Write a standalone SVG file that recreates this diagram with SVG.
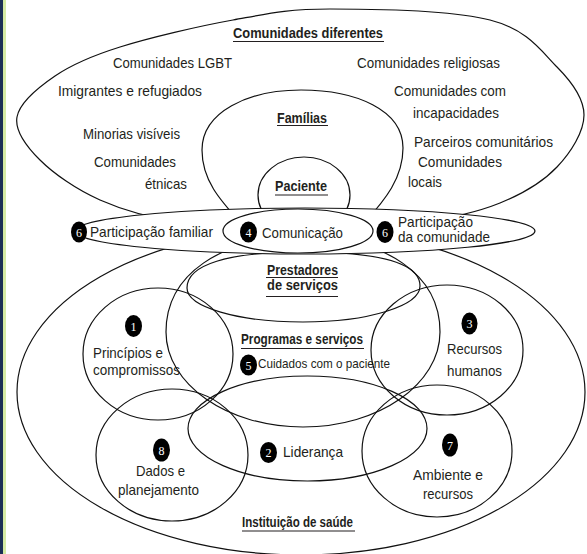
<svg xmlns="http://www.w3.org/2000/svg" width="587" height="554" viewBox="0 0 587 554">
<style>
.o{fill:none;stroke:#111;stroke-width:1.2}
.t{font-family:"Liberation Sans",Arial,sans-serif;font-size:14.5px;fill:#231f20}
.s{font-family:"Liberation Sans",Arial,sans-serif;font-size:13px;fill:#231f20}
.b{font-family:"Liberation Sans",Arial,sans-serif;font-size:14px;font-weight:bold;fill:#231f20}
.u{stroke:#231f20;stroke-width:1.1}
.k{fill:#000}
.n{font-family:"Liberation Serif","Times New Roman",serif;font-size:12px;fill:#fff;text-anchor:middle}
</style>
<rect x="0" y="0" width="587" height="554" fill="#fff"/>
<rect x="0" y="0" width="3" height="554" fill="#1b2e56"/>
<rect x="3" y="0" width="3" height="554" fill="#d5eaa4"/>

<g id="comunidades-diferentes">
<path class="o" d="M17,117 C19.5,103 37.8,87.7 55,76 C72.2,64.3 90.3,56.3 120,47 C149.7,37.7 198,26.3 233,20 C268,13.7 287.2,9 330,9 C372.8,9 452.2,10.3 490,20 C527.8,29.7 541.3,51.2 557,67 C572.7,82.8 584,98.3 584,115 C584,131.7 571,152.3 557,167 C543,181.7 522.8,193.8 500,203 C477.2,212.2 453.3,217.8 420,222 C386.7,226.2 340,228 300,228 C260,228 213.3,226.7 180,222 C146.7,217.3 123.3,210.3 100,200 C76.7,189.7 53.8,173.8 40,160 C26.2,146.2 14.5,131 17,117 Z"/>
<text class="b" x="233" y="38" textLength="150" lengthAdjust="spacingAndGlyphs">Comunidades diferentes</text>
<line class="u" x1="233" y1="41.5" x2="384" y2="41.5"/>
<text class="t" x="113" y="68" textLength="119" lengthAdjust="spacingAndGlyphs">Comunidades LGBT</text>
<text class="t" x="357" y="68" textLength="143" lengthAdjust="spacingAndGlyphs">Comunidades religiosas</text>
<text class="t" x="58" y="96" textLength="144" lengthAdjust="spacingAndGlyphs">Imigrantes e refugiados</text>
<text class="t" x="394" y="96" textLength="112" lengthAdjust="spacingAndGlyphs">Comunidades com</text>
<text class="t" x="413" y="118" textLength="86" lengthAdjust="spacingAndGlyphs">incapacidades</text>
<text class="t" x="83" y="139" textLength="97" lengthAdjust="spacingAndGlyphs">Minorias visíveis</text>
<text class="t" x="414" y="147" textLength="139" lengthAdjust="spacingAndGlyphs">Parceiros comunitários</text>
<text class="t" x="94" y="167" textLength="82" lengthAdjust="spacingAndGlyphs">Comunidades</text>
<text class="t" x="418" y="167" textLength="84" lengthAdjust="spacingAndGlyphs">Comunidades</text>
<text class="t" x="145" y="189" textLength="42" lengthAdjust="spacingAndGlyphs">étnicas</text>
<text class="t" x="408" y="187" textLength="34" lengthAdjust="spacingAndGlyphs">locais</text>
</g>

<g id="familias">
<path class="o" d="M202,150 C202,112 248,90 301,90 C356,90 403,110 403,148 C403,178 385,200 365,222 C345,235 255,235 240,222 C220,200 202,180 202,150 Z"/>
<text class="b" x="277" y="123" textLength="50" lengthAdjust="spacingAndGlyphs">Famílias</text>
<line class="u" x1="277" y1="125.5" x2="328" y2="125.5"/>
</g>

<g id="paciente">
<ellipse class="o" cx="304" cy="195" rx="46" ry="38"/>
<text class="b" x="275" y="191" textLength="52" lengthAdjust="spacingAndGlyphs">Paciente</text>
<line class="u" x1="275" y1="195" x2="328" y2="195"/>
</g>

<g id="instituicao-de-saude">
<ellipse class="o" cx="301" cy="392" rx="284" ry="163"/>
<text class="b" x="242" y="527" textLength="111" lengthAdjust="spacingAndGlyphs">Instituição de saúde</text>
<line class="u" x1="242" y1="531" x2="355" y2="531"/>
</g>

<g id="programas-e-servicos">
<path class="o" d="M166,332 C166,275 220,237 303,237 C386,237 440,275 440,332 C440,384 379,427 303,427 C227,427 166,384 166,332 Z"/>
<text class="b" x="241" y="344" textLength="122" lengthAdjust="spacingAndGlyphs">Programas e serviços</text>
<line class="u" x1="241" y1="348.5" x2="364" y2="348.5"/>
<ellipse class="k" cx="248.5" cy="365" rx="8.5" ry="10.5"/>
<text class="n" x="248.5" y="369.5">5</text>
<text class="s" x="258" y="368" textLength="132" lengthAdjust="spacingAndGlyphs">Cuidados com o paciente</text>
</g>

<g id="prestadores-de-servicos">
<path class="o" d="M187,288 C187,264.6 227.6,252 303,252 C378.4,252 420,263 420,286 C420,306 368,322 303,322 C238,322 187,307 187,288 Z"/>
<text class="b" x="267" y="275" textLength="71" lengthAdjust="spacingAndGlyphs">Prestadores</text>
<line class="u" x1="266" y1="277.5" x2="338" y2="277.5"/>
<text class="b" x="267" y="290" textLength="71" lengthAdjust="spacingAndGlyphs">de serviços</text>
<line class="u" x1="266" y1="296.5" x2="338" y2="296.5"/>
</g>

<g id="principios-e-compromissos">
<ellipse class="o" cx="158" cy="354" rx="75" ry="66"/>
<ellipse class="k" cx="133.5" cy="326" rx="8.5" ry="11"/>
<text class="n" x="133.5" y="330.5">1</text>
<text class="t" x="93" y="358" textLength="70" lengthAdjust="spacingAndGlyphs">Princípios e</text>
<text class="t" x="93" y="375" textLength="87" lengthAdjust="spacingAndGlyphs">compromissos</text>
</g>

<g id="recursos-humanos">
<ellipse class="o" cx="447" cy="350" rx="76" ry="65"/>
<ellipse class="k" cx="469.5" cy="323.5" rx="8" ry="11"/>
<text class="n" x="469.5" y="328">3</text>
<text class="t" x="447" y="354" textLength="55" lengthAdjust="spacingAndGlyphs">Recursos</text>
<text class="t" x="447" y="376" textLength="55" lengthAdjust="spacingAndGlyphs">humanos</text>
</g>

<g id="ambiente-e-recursos">
<ellipse class="o" cx="437" cy="451" rx="75" ry="66"/>
<ellipse class="k" cx="450" cy="445" rx="8" ry="11.5"/>
<text class="n" x="450" y="449.5">7</text>
<text class="t" x="413" y="480" textLength="70" lengthAdjust="spacingAndGlyphs">Ambiente e</text>
<text class="t" x="423" y="499" textLength="50" lengthAdjust="spacingAndGlyphs">recursos</text>
</g>

<g id="dados-e-planejamento">
<ellipse class="o" cx="172" cy="455" rx="76" ry="66"/>
<ellipse class="k" cx="161.5" cy="450" rx="8.5" ry="11.5"/>
<text class="n" x="161.5" y="454.5">8</text>
<text class="t" x="136" y="476" textLength="49" lengthAdjust="spacingAndGlyphs">Dados e</text>
<text class="t" x="118" y="495" textLength="81" lengthAdjust="spacingAndGlyphs">planejamento</text>
</g>

<g id="lideranca">
<ellipse class="o" cx="307.5" cy="428.5" rx="119.5" ry="52.5"/>
<ellipse class="k" cx="268.5" cy="452.5" rx="8.5" ry="10.5"/>
<text class="n" x="268.5" y="457">2</text>
<text class="t" x="283" y="457" textLength="60" lengthAdjust="spacingAndGlyphs">Liderança</text>
</g>

<g id="participacao">
<ellipse cx="305" cy="231" rx="230" ry="23" fill="#fff" stroke="#111" stroke-width="1.2"/>
<ellipse class="k" cx="79" cy="232" rx="8" ry="10.5"/>
<text class="n" x="79" y="236.5">6</text>
<text class="t" x="90" y="237" textLength="123" lengthAdjust="spacingAndGlyphs">Participação familiar</text>
<ellipse class="k" cx="385" cy="232" rx="8.5" ry="11"/>
<text class="n" x="385" y="236.5">6</text>
<text class="t" x="398" y="227" textLength="75" lengthAdjust="spacingAndGlyphs">Participação</text>
<text class="t" x="398" y="242" textLength="92" lengthAdjust="spacingAndGlyphs">da comunidade</text>
</g>

<g id="comunicacao">
<ellipse class="o" cx="298" cy="231" rx="75" ry="22"/>
<ellipse class="k" cx="248.5" cy="232" rx="8.5" ry="10.5"/>
<text class="n" x="248.5" y="236.5">4</text>
<text class="t" x="262" y="238" textLength="81" lengthAdjust="spacingAndGlyphs">Comunicação</text>
</g>

<g id="connectors"></g>
</svg>
